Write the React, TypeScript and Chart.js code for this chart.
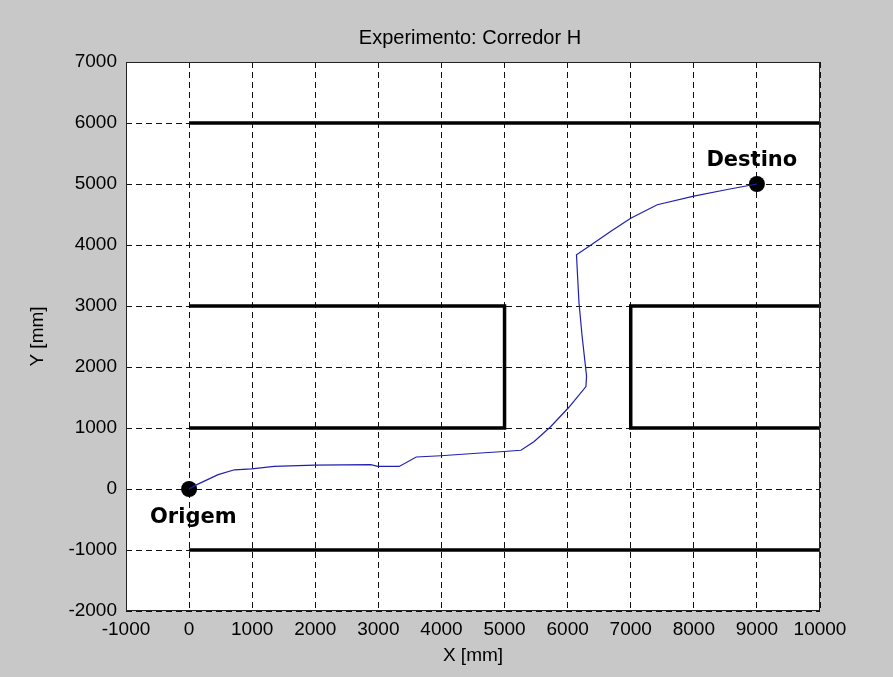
import React, { useEffect, useRef } from "react";
import { Chart, registerables } from "chart.js";

Chart.register(...registerables);

const TITLE = "Experimento: Corredor H";
const X_LABEL = "X [mm]";
const Y_LABEL = "Y [mm]";

const X_MIN = -1000;
const X_MAX = 10000;
const Y_MIN = -2000;
const Y_MAX = 7000;
const TICK_STEP = 1000;

// robot trajectory [x, y] in mm
const pathX = [0, 90, 460, 720, 990, 1350, 1990, 2880, 2990, 3330, 3600, 3990, 4620, 4990, 5260, 5470, 5730, 6020, 6290, 6300, 6230, 6180, 6140, 6370, 6680, 7000, 7420, 8000, 8530, 9000];
const pathY = [0, 55, 235, 315, 330, 370, 390, 400, 370, 370, 525, 545, 590, 615, 635, 780, 1020, 1340, 1680, 1850, 2500, 3050, 3840, 4000, 4220, 4440, 4660, 4800, 4910, 5000];

// corridor walls
const wallTopX = [0, 10000];
const wallTopY = [6000, 6000];
const wallBottomX = [0, 10000];
const wallBottomY = [-1000, -1000];
const leftBlockX = [0, 5000, 5000, 0];
const leftBlockY = [3000, 3000, 1000, 1000];
const rightBlockX = [10000, 7000, 7000, 10000];
const rightBlockY = [3000, 3000, 1000, 1000];

// start / goal markers
const markerX = [0, 9000];
const markerY = [0, 5000];

// text annotations (data coordinates, left / baseline anchored)
const annotText = ["Origem", "Destino"];
const annotX = [-620, 8200];
const annotY = [-560, 5290];

const toPoints = (xs: number[], ys: number[]) => xs.map((x, i) => ({ x, y: ys[i] }));

export default function App() {
  const ref = useRef<HTMLCanvasElement | null>(null);

  useEffect(() => {
    if (!ref.current) return;

    const bgPlugin = {
      id: "bg",
      beforeDraw(chart: any) {
        const { ctx, chartArea } = chart;
        ctx.save();
        ctx.fillStyle = "#c8c8c8";
        ctx.fillRect(0, 0, chart.width, chart.height);
        ctx.fillStyle = "#ffffff";
        ctx.fillRect(chartArea.left, chartArea.top, chartArea.right - chartArea.left, chartArea.bottom - chartArea.top);
        ctx.restore();
      },
      afterDatasetsDraw(chart: any) {
        const { ctx, chartArea, scales } = chart;
        ctx.save();
        ctx.strokeStyle = "#222222";
        ctx.lineWidth = 1;
        ctx.strokeRect(chartArea.left + 0.5, chartArea.top + 0.5, chartArea.right - chartArea.left - 1, chartArea.bottom - chartArea.top - 1);
        ctx.fillStyle = "#000000";
        ctx.font = "bold 21px 'DejaVu Sans'";
        ctx.textAlign = "left";
        ctx.textBaseline = "alphabetic";
        annotText.forEach((t, i) => {
          ctx.fillText(t, scales.x.getPixelForValue(annotX[i]), scales.y.getPixelForValue(annotY[i]));
        });
        // title, centred over the axes box
        ctx.font = "20px 'Liberation Sans', Arial, sans-serif";
        ctx.textAlign = "center";
        ctx.textBaseline = "middle";
        ctx.fillText(TITLE, (chartArea.left + chartArea.right) / 2 - 3, chartArea.top - 24);
        ctx.restore();
      },
    };

    const wallStyle = {
      showLine: true,
      borderColor: "#000000",
      backgroundColor: "#000000",
      borderWidth: 3.5,
      pointRadius: 0,
      fill: false,
    };

    const tickFont = { family: "'Liberation Sans', Arial, sans-serif", size: 19 };
    const gridCfg = { color: "#111111", lineWidth: 1, drawTicks: false };
    const borderCfg = { display: false, dash: [6, 4] };

    const chart = new Chart(ref.current, {
      type: "scatter",
      data: {
        datasets: [
          { ...wallStyle, data: toPoints(wallTopX, wallTopY) },
          { ...wallStyle, data: toPoints(wallBottomX, wallBottomY) },
          { ...wallStyle, data: toPoints(leftBlockX, leftBlockY) },
          { ...wallStyle, data: toPoints(rightBlockX, rightBlockY) },
          {
            data: toPoints(pathX, pathY),
            showLine: true,
            borderColor: "#2020b0",
            backgroundColor: "#2020b0",
            borderWidth: 1.2,
            pointRadius: 0,
          },
          {
            data: toPoints(markerX, markerY),
            showLine: false,
            pointRadius: 8,
            backgroundColor: "#000000",
            borderColor: "#000000",
            borderWidth: 0,
          },
        ],
      },
      options: {
        responsive: false,
        animation: false,
        layout: { padding: { left: 0, right: 73, top: 62, bottom: 0 } },
        plugins: {
          legend: { display: false },
          tooltip: { enabled: false },
          title: { display: false },
        },
        scales: {
          x: {
            type: "linear",
            min: X_MIN,
            max: X_MAX,
            afterFit: (s: any) => {
              s.height = 66;
            },
            ticks: {
              stepSize: TICK_STEP,
              autoSkip: false,
              maxRotation: 0,
              color: "#000000",
              font: tickFont,
              padding: 7,
              callback: (v: any) => String(v),
            },
            grid: gridCfg,
            border: borderCfg,
            title: {
              display: true,
              text: X_LABEL,
              color: "#000000",
              font: tickFont,
              padding: { top: 0, bottom: 10 },
            },
          },
          y: {
            type: "linear",
            min: Y_MIN,
            max: Y_MAX,
            afterFit: (s: any) => {
              s.width = 126;
            },
            ticks: {
              stepSize: TICK_STEP,
              autoSkip: false,
              color: "#000000",
              font: tickFont,
              padding: 9,
              callback: (v: any) => String(v),
            },
            grid: gridCfg,
            border: borderCfg,
            title: {
              display: true,
              text: Y_LABEL,
              color: "#000000",
              font: tickFont,
              padding: { top: 26, bottom: 0 },
            },
          },
        },
      },
      plugins: [bgPlugin],
    } as any);

    return () => chart.destroy();
  }, []);

  return (
    <div style={{ position: "fixed", left: 0, top: 0, width: 893, height: 677, background: "#c8c8c8" }}>
      <canvas ref={ref} width={893} height={677} style={{ width: 893, height: 677, display: "block" }} />
    </div>
  );
}
